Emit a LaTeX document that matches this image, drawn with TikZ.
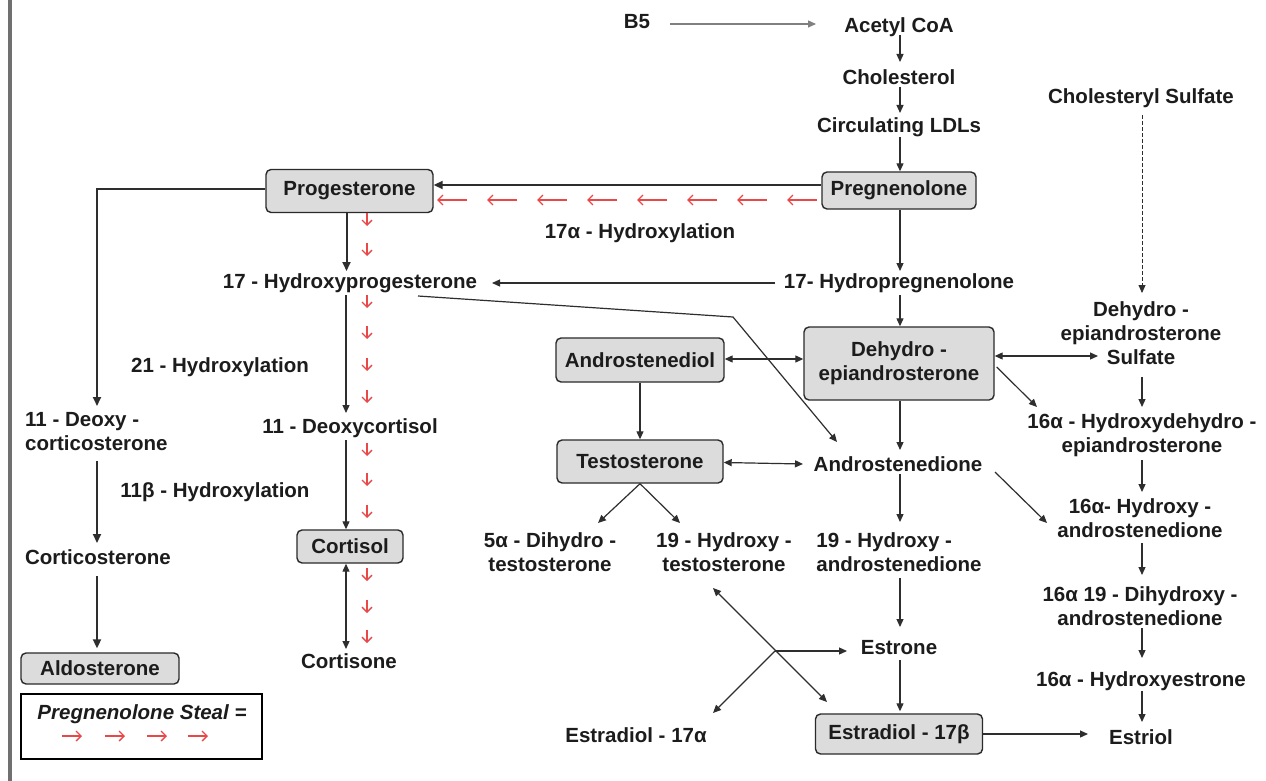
\documentclass[tikz,border=0pt]{standalone}
\usepackage{fontspec}
\setmainfont{Liberation Sans}
\usetikzlibrary{arrows.meta,calc}
\definecolor{textc}{HTML}{1C1C1C}
\definecolor{linec}{HTML}{2E2E2E}
\definecolor{boxline}{HTML}{2A2A2A}
\definecolor{boxfill}{HTML}{DCDCDC}
\definecolor{redc}{RGB}{232,72,72}
\definecolor{barc}{HTML}{707070}
\begin{document}
\begin{tikzpicture}[x=1pt,y=-1pt,
  lbl/.style={font=\fontsize{20.5}{24}\selectfont\bfseries, text=textc, inner sep=0pt, text height=15pt, text depth=4pt},
  lblm/.style={font=\fontsize{20.5}{24}\selectfont\bfseries, text=textc, inner sep=0pt, align=center},
  lbli/.style={font=\fontsize{20.5}{24}\selectfont\bfseries\itshape, text=textc, inner sep=0pt},
  boxn/.style={font=\fontsize{20.5}{24}\selectfont\bfseries, text=textc, draw=boxline, fill=boxfill, rounded corners=5pt, line width=1.4pt, align=center, inner sep=0pt},
  arr/.style={draw=linec, line width=1.2pt, -{Triangle[length=8pt,width=7pt]}},
  darr/.style={draw=linec, line width=1.2pt, {Triangle[length=8pt,width=7pt]}-{Triangle[length=8pt,width=7pt]}},
  tarr/.style={draw=linec, line width=2pt, -{Triangle[length=9pt,width=8pt]}},
  redarr/.style={draw=redc, line width=1.2pt, -{Straight Barb[length=5pt,width=10pt,line width=1.3pt]}},
]
\useasboundingbox (0,0) rectangle (1266,781);
\fill[white] (0,0) rectangle (1266,781);
\fill[barc] (7.5,0) rectangle (11.5,781);

% top chain
\node[lbl] (b5) at (637,23) {B5};
\node[lbl] (acetyl) at (899,27) {Acetyl CoA};
\node[lbl] (chol) at (899,79) {Cholesterol};
\node[lbl] (ldl) at (899,127) {Circulating LDLs};
\node[boxn, minimum width=154pt, minimum height=37pt] (preg) at (899,190.5) {Pregnenolone};
\node[boxn, minimum width=167pt, minimum height=43pt] (prog) at (349.5,191) {Progesterone};
\node[lbl] (h17a) at (640,233) {17α - Hydroxylation};
\node[lbl] (hp17) at (899,283) {17- Hydropregnenolone};
\node[lbl] (ohp17) at (350,283) {17 - Hydroxyprogesterone};

% left columns
\node[lbl] (h21) at (220,367) {21 - Hydroxylation};
\node[lbl] (dcol) at (350,428) {11 - Deoxycortisol};
\node[lbl] (h11b) at (215,492) {11β - Hydroxylation};
\node[lblm, align=left, anchor=west] (dcs) at (25,432) {11 - Deoxy -\\corticosterone};
\node[lbl] (ccs) at (98,559) {Corticosterone};
\node[boxn, minimum width=106pt, minimum height=33pt] (cortisol) at (350,546.5) {Cortisol};
\node[lbl] (cortisone) at (349,663) {Cortisone};
\node[boxn, minimum width=158pt, minimum height=31pt] (aldo) at (100,668.5) {Aldosterone};
\node[draw=black, line width=1.3pt, minimum width=241pt, minimum height=65pt, inner sep=0pt] (legend) at (141.5,726.5) {};
\node[lbli] (legtxt) at (142,714) {Pregnenolone Steal =};

% right column
\node[lbl] (csulf) at (1141,98) {Cholesteryl Sulfate};
\node[lblm] (dheas) at (1141,333) {Dehydro -\\epiandrosterone\\Sulfate};
\node[boxn, minimum width=190pt, minimum height=73pt] (dhea) at (899,363.5) {Dehydro -\\epiandrosterone};
\node[lblm] (ohdhea) at (1142,435) {16α - Hydroxydehydro -\\epiandrosterone};
\node[lblm] (oha) at (1140,518) {16α- Hydroxy -\\androstenedione};
\node[lblm] (dioh) at (1140,606) {16α 19 - Dihydroxy -\\androstenedione};
\node[lbl] (ohe) at (1141,681) {16α - Hydroxyestrone};
\node[lbl] (estriol) at (1141,739) {Estriol};
\node[boxn, minimum width=167pt, minimum height=40pt] (e2b) at (899,734) {Estradiol - 17β};

% middle
\node[boxn, minimum width=168pt, minimum height=44pt] (diol) at (640,360) {Androstenediol};
\node[boxn, minimum width=166pt, minimum height=43pt] (testo) at (640,461.5) {Testosterone};
\node[lbl] (andro) at (898,466) {Androstenedione};
\node[lblm] (dht) at (550,552) {5α - Dihydro -\\testosterone};
\node[lblm] (oht) at (724,552) {19 - Hydroxy -\\testosterone};
\node[lblm, align=left] (oha19) at (899,552) {19 - Hydroxy -\\androstenedione};
\node[lbl] (estrone) at (899,649) {Estrone};
\node[lbl] (e2a) at (636,737) {Estradiol - 17α};

% top chain arrows
\draw[arr, draw=gray] ($(b5)+(33,1)$) -- ($(acetyl)+(-83,-3)$);
\draw[arr] ($(acetyl)+(1,8)$) -- ($(chol)+(1,-17)$);
\draw[arr] ($(chol)+(1,8)$) -- ($(ldl)+(1,-14)$);
\draw[arr] ($(ldl)+(1,10)$) -- ($(preg.north)+(1,0)$);
\draw[tarr] ($(preg.west)+(0,-5.5)$) -- ($(prog.east)+(0,-6)$);
\draw[arr] ($(preg.south)+(1,0)$) -- ($(hp17)+(1,-12)$);
\draw[arr] ($(hp17)+(-124,0)$) -- ($(ohp17)+(142,0)$);
\draw[tarr] ($(prog.south)+(-3,0)$) -- ($(ohp17)+(-3.5,-12)$);
\draw[arr] ($(ohp17)+(-4,12)$) -- ($(dcol)+(-4,-15)$);
\draw[arr] ($(dcol)+(-4,12)$) -- ($(cortisol.north)+(-4,0)$);
\draw[darr] ($(cortisol.south)+(-4,0)$) -- ($(cortisone)+(-3,-14)$);

% left column arrows
\draw[tarr] ($(prog.west)+(0,-2)$) -| ($(dcs.west)+(72,-26)$);
\draw[tarr] ($(dcs.west)+(72,29)$) -- ($(ccs)+(-1,-16)$);
\draw[tarr] ($(ccs)+(-1,17)$) -- ($(aldo.north)+(-3,-4)$);

% red "steal" arrows
\foreach \x in {437,487,537,587,637,687,737,787}
  \draw[redarr] (\x+30,200) -- (\x,200);
\foreach \y in {220,250,302,333,365,397,450,480,512,575,607,637}
  \draw[redarr] (367,\y-7) -- (367,\y+6);
\foreach \x in {62,105,147,188}
  \draw[redarr] (\x,736) -- (\x+20,736);

% right column arrows
\draw[arr, line width=0.9pt, dash pattern=on 4pt off 2pt] ($(csulf)+(1,17)$) -- ($(dheas)+(1,-40)$);
\draw[darr] ($(dhea.east)+(0,-7.5)$) -- ($(dheas)+(-43,23)$);
\draw[arr] ($(dheas)+(1,44)$) -- ($(ohdhea)+(0,-28)$);
\draw[arr] ($(dhea.east)+(2,3.5)$) -- ($(ohdhea)+(-105,-28)$);
\draw[arr] ($(ohdhea)+(0,25)$) -- ($(oha)+(2,-26)$);
\draw[arr] ($(andro)+(97,6)$) -- ($(oha)+(-93,5)$);
\draw[arr] ($(oha)+(2,25)$) -- ($(dioh)+(2,-31)$);
\draw[arr] ($(dioh)+(2,22)$) -- ($(ohe)+(1,-23)$);
\draw[arr] ($(ohe)+(1,10)$) -- ($(estriol)+(1,-17)$);
\draw[arr] (e2b.east) -- ($(estriol)+(-53,-5)$);

% middle arrows
\draw[arr] ($(hp17)+(1,12)$) -- ($(dhea.north)+(1,0)$);
\draw[darr] ($(diol.east)+(0,-1)$) -- ($(dhea.west)+(0,-4.5)$);
\draw[arr] (diol.south) -- (testo.north);
\draw[darr] ($(testo.east)+(0,1)$) -- ($(andro)+(-95,-2)$);
\draw[arr] ($(dhea.south)+(1,0)$) -- ($(andro)+(2,-16)$);
\draw[arr] ($(ohp17)+(68,13)$) -- ($(andro)+(-165,-149)$) -- ($(andro)+(-61,-24)$);
\draw[arr] (testo.south) -- ($(dht)+(48,-29)$);
\draw[arr] (testo.south) -- ($(oht)+(-44,-29)$);
\draw[arr] ($(andro)+(2,8)$) -- ($(oha19)+(1,-30)$);
\draw[arr] ($(oha19)+(1,26)$) -- ($(estrone)+(1,-22)$);
\draw[arr] ($(estrone)+(1,11)$) -- ($(e2b.north)+(1,-2)$);
\draw[darr] ($(oht)+(-11,36)$) -- ($(e2b)+(-72,-32)$);
\coordinate (xc) at ($(oht)+(51,99)$);
\draw[arr] (xc) -- ($(estrone)+(-52,2)$);
\draw[arr] (xc) -- ($(e2a)+(77,-24)$);
\end{tikzpicture}
\end{document}
